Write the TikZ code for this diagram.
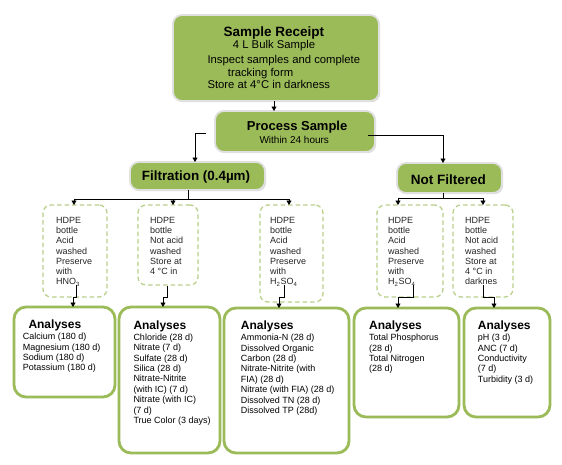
\documentclass[tikz,border=0pt]{standalone}
\usepackage{fontspec}
\setmainfont{Liberation Sans}
\usetikzlibrary{arrows.meta,shadows}
\definecolor{boxgreen}{HTML}{9BBB59}
\definecolor{dashgreen}{HTML}{B9D08A}
\tikzset{
  gbox/.style={draw=black!12, line width=1.8pt, fill=boxgreen, rounded corners=9pt,
    inner sep=0pt, outer sep=0pt, anchor=north west,
    drop shadow={opacity=0.3, shadow xshift=1.2pt, shadow yshift=-1.2pt}},
  dbox/.style={draw=dashgreen, line width=1.3pt, dash pattern=on 4.5pt off 3pt,
    rounded corners=8pt, inner sep=0pt, outer sep=0pt, anchor=north west},
  abox/.style={draw=boxgreen, line width=2.8pt, rounded corners=12pt, fill=white,
    inner sep=0pt, outer sep=0pt, anchor=north west},
  txt/.style={inner sep=0pt, anchor=base west},
  btxt/.style={inner sep=0pt, anchor=north west, align=left,
    font=\fontsize{9}{10.3}\selectfont, text=black!85},
  itxt/.style={inner sep=0pt, anchor=north west, align=left,
    font=\fontsize{9}{10.4}\selectfont},
  atitle/.style={inner sep=0pt, anchor=base west, font=\bfseries\fontsize{12}{14}\selectfont},
  conn/.style={draw=black, line width=0.8pt},
  arr/.style={conn, -{Triangle[length=4.5pt,width=5pt]}},
}
\begin{document}
\begin{tikzpicture}[x=1pt,y=-1pt]
\useasboundingbox[fill=white] (0,0) rectangle (562,464);

% main boxes
\node[gbox, minimum width=206pt, minimum height=86pt] (sr) at (173,15) {};
\node[gbox, minimum width=160pt, minimum height=41pt] (ps) at (215,111) {};
\node[gbox, minimum width=135pt, minimum height=28pt] (filt) at (130,162) {};
\node[gbox, minimum width=105pt, minimum height=30pt] (nf) at (397,163) {};

% sample receipt text
\node[txt, font=\bfseries\fontsize{13.5}{16}\selectfont] (srt) at (223.3,36) {Sample Receipt};
\node[txt, font=\fontsize{11.3}{12.5}\selectfont] (sr1) at (232.7,48.5) {4 L Bulk Sample};
\node[txt, font=\fontsize{11.3}{12.5}\selectfont] (sr2) at (207.3,63) {Inspect samples and complete};
\node[txt, font=\fontsize{11.3}{12.5}\selectfont] (sr3) at (227.7,76) {tracking form};
\node[txt, font=\fontsize{11.3}{12.5}\selectfont] (sr4) at (207.3,88.5) {Store at 4°C in darkness};

\node[txt, font=\bfseries\fontsize{13}{15}\selectfont] (pst) at (246.7,130) {Process Sample};
\node[txt, font=\fontsize{10}{12}\selectfont] (ps1) at (259.3,143.3) {Within 24 hours};

\node[txt, font=\bfseries\fontsize{13.4}{15}\selectfont] (ft) at (141.7,180.7) {Filtration (0.4µm)};
\node[txt, font=\bfseries\fontsize{13.5}{15}\selectfont] (nft) at (410.7,184) {Not Filtered};

% dashed boxes
\node[dbox, minimum width=64pt, minimum height=92pt] (d1) at (43,205) {};
\node[dbox, minimum width=60pt, minimum height=80pt] (d2) at (138,205) {};
\node[dbox, minimum width=63pt, minimum height=97pt] (d3) at (260,205) {};
\node[dbox, minimum width=66pt, minimum height=92pt] (d4) at (377,205) {};
\node[dbox, minimum width=60pt, minimum height=92pt] (d5) at (453,205) {};

\node[btxt] (d1t) at (56,216.8) {HDPE\\bottle\\Acid\\washed\\Preserve\\with\\HNO\textsubscript{3}};
\node[btxt] (d2t) at (150,216.8) {HDPE\\bottle\\Not acid\\washed\\Store at\\4 °C in};
\node[btxt] (d3t) at (270,216.8) {HDPE\\bottle\\Acid\\washed\\Preserve\\with\\H\textsubscript{2}SO\textsubscript{4}};
\node[btxt] (d4t) at (388,216.8) {HDPE\\bottle\\Acid\\washed\\Preserve\\with\\H\textsubscript{2}SO\textsubscript{4}};
\node[btxt] (d5t) at (465,216.8) {HDPE\\bottle\\Not acid\\washed\\Store at\\4 °C in\\darknes};

% analyses boxes
\node[abox, minimum width=101pt, minimum height=90pt] (a1) at (14,307) {};
\node[abox, minimum width=101pt, minimum height=146pt] (a2) at (119,307) {};
\node[abox, minimum width=125pt, minimum height=145pt] (a3) at (224,308) {};
\node[abox, minimum width=105pt, minimum height=109pt] (a4) at (354,308) {};
\node[abox, minimum width=86pt, minimum height=109pt] (a5) at (464,308) {};

\node[atitle] (a1t) at (28.3,328.5) {Analyses};
\node[itxt] (a1i) at (22.7,333) {Calcium (180 d)\\Magnesium (180 d)\\Sodium (180 d)\\Potassium (180 d)};
\node[atitle] (a2t) at (133.3,329) {Analyses};
\node[itxt] (a2i) at (133.3,333.5) {Chloride (28 d)\\Nitrate (7 d)\\Sulfate (28 d)\\Silica (28 d)\\Nitrate-Nitrite\\(with IC) (7 d)\\Nitrate (with IC)\\(7 d)\\True Color (3 days)};
\node[atitle] (a3t) at (240.7,329) {Analyses};
\node[itxt] (a3i) at (240.7,334) {Ammonia-N (28 d)\\Dissolved Organic\\Carbon (28 d)\\Nitrate-Nitrite (with\\FIA) (28 d)\\Nitrate (with FIA) (28 d)\\Dissolved TN (28 d)\\Dissolved TP (28d)};
\node[atitle] (a4t) at (369,329) {Analyses};
\node[itxt] (a4i) at (369,334) {Total Phosphorus\\(28 d)\\Total Nitrogen\\(28 d)};
\node[atitle] (a5t) at (477.7,329) {Analyses};
\node[itxt] (a5i) at (477.7,334) {pH (3 d)\\ANC (7 d)\\Conductivity\\(7 d)\\Turbidity (3 d)};

% connectors top
\draw[arr] (sr.south -| 274,0) -- (ps.north -| 274,0);
\coordinate (psl) at (206,133);
\draw[arr] (psl) -| (filt.north -| 195,0);
\coordinate (psr) at (368,135);
\draw[arr] (psr) -| (nf.north -| 443,0);

% filtration branch
\coordinate (fj) at (188,199);
\draw[conn] (filt.south -| fj) -- (fj);
\draw[conn] (74,199) -- (289,199);
\draw[arr] (74,199) -- (d1.north -| 74,0);
\draw[arr] (173,199) -- (d2.north -| 173,0);
\draw[arr] (289,199) -- (d3.north -| 289,0);

% not filtered branch
\coordinate (nj) at (443,198);
\draw[conn] (nf.south -| nj) -- (nj);
\draw[conn] (398,198) -- (483,198);
\draw[arr] (398,198) -- (d4.north -| 398,0);
\draw[arr] (483,198) -- (d5.north -| 483,0);

% dashed -> analyses
\coordinate (c1) at (76,285);
\draw[arr] (c1) -- (76,297) -- (73,297) -- (a1.north -| 73,0);
\coordinate (c2) at (167,286);
\draw[arr] (c2) -- (167,297) -- (163,297) -- (a2.north -| 163,0);
\coordinate (c3) at (284,285);
\draw[arr] (c3) -- (284,297) -- (279,297) -- (a3.north -| 279,0);
\coordinate (c4) at (413,285);
\draw[arr] (c4) -- (413,297) -- (398,297) -- (a4.north -| 398,0);
\coordinate (c5) at (483,285);
\draw[arr] (c5) -- (483,297) -- (494,297) -- (a5.north -| 494,0);
\end{tikzpicture}
\end{document}
